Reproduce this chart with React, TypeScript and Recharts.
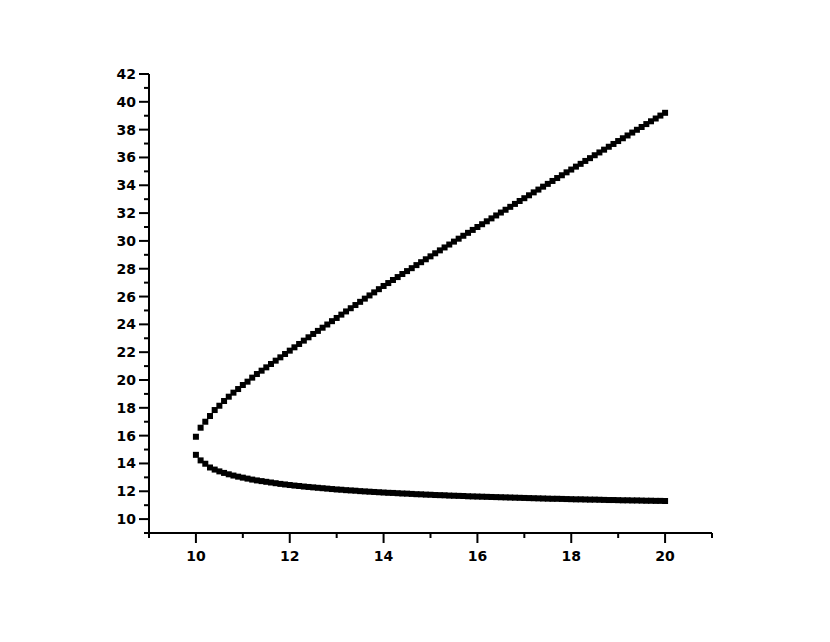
import React from "react";
import { ScatterChart, Scatter, XAxis, YAxis } from "recharts";

const xValues = [
  10.0, 10.1, 10.2, 10.3, 10.4, 10.5, 10.6, 10.7, 10.8, 10.9,
  11.0, 11.1, 11.2, 11.3, 11.4, 11.5, 11.6, 11.7, 11.8, 11.9,
  12.0, 12.1, 12.2, 12.3, 12.4, 12.5, 12.6, 12.7, 12.8, 12.9,
  13.0, 13.1, 13.2, 13.3, 13.4, 13.5, 13.6, 13.7, 13.8, 13.9,
  14.0, 14.1, 14.2, 14.3, 14.4, 14.5, 14.6, 14.7, 14.8, 14.9,
  15.0, 15.1, 15.2, 15.3, 15.4, 15.5, 15.6, 15.7, 15.8, 15.9,
  16.0, 16.1, 16.2, 16.3, 16.4, 16.5, 16.6, 16.7, 16.8, 16.9,
  17.0, 17.1, 17.2, 17.3, 17.4, 17.5, 17.6, 17.7, 17.8, 17.9,
  18.0, 18.1, 18.2, 18.3, 18.4, 18.5, 18.6, 18.7, 18.8, 18.9,
  19.0, 19.1, 19.2, 19.3, 19.4, 19.5, 19.6, 19.7, 19.8, 19.9,
  20.0,
];

const upperY = [
  15.92, 16.57, 17.0, 17.41, 17.84, 18.15, 18.49, 18.8, 19.09, 19.35,
  19.64, 19.88, 20.17, 20.43, 20.67, 20.91, 21.15, 21.39, 21.63, 21.87,
  22.11, 22.35, 22.59, 22.83, 23.07, 23.31, 23.53, 23.76, 23.99, 24.23,
  24.46, 24.7, 24.93, 25.16, 25.39, 25.62, 25.85, 26.08, 26.3, 26.53,
  26.76, 26.97, 27.19, 27.4, 27.62, 27.83, 28.04, 28.26, 28.47, 28.68,
  28.89, 29.11, 29.32, 29.53, 29.74, 29.95, 30.16, 30.37, 30.58, 30.79,
  31.0, 31.2, 31.41, 31.62, 31.83, 32.04, 32.24, 32.45, 32.66, 32.87,
  33.07, 33.28, 33.49, 33.69, 33.9, 34.1, 34.31, 34.52, 34.72, 34.93,
  35.13, 35.34, 35.54, 35.75, 35.95, 36.16, 36.36, 36.56, 36.77, 36.97,
  37.18, 37.38, 37.58, 37.79, 37.99, 38.19, 38.4, 38.6, 38.8, 39.01,
  39.21,
];

const lowerY = [
  14.62, 14.22, 13.98, 13.71, 13.56, 13.43, 13.32, 13.22, 13.13, 13.05,
  12.98, 12.91, 12.84, 12.78, 12.73, 12.68, 12.63, 12.58, 12.53, 12.49,
  12.45, 12.41, 12.38, 12.34, 12.31, 12.28, 12.25, 12.22, 12.19, 12.16,
  12.13, 12.11, 12.08, 12.06, 12.04, 12.01, 11.99, 11.97, 11.95, 11.93,
  11.91, 11.89, 11.88, 11.86, 11.84, 11.83, 11.81, 11.79, 11.78, 11.76,
  11.75, 11.73, 11.72, 11.71, 11.69, 11.68, 11.67, 11.66, 11.64, 11.63,
  11.62, 11.61, 11.6, 11.59, 11.58, 11.57, 11.56, 11.55, 11.54, 11.53,
  11.52, 11.51, 11.5, 11.49, 11.48, 11.47, 11.46, 11.46, 11.45, 11.44,
  11.43, 11.42, 11.42, 11.41, 11.4, 11.4, 11.39, 11.38, 11.37, 11.37,
  11.36, 11.35, 11.35, 11.34, 11.34, 11.33, 11.32, 11.32, 11.31, 11.31,
  11.3,
];

const xTicks = [9, 10, 11, 12, 13, 14, 15, 16, 17, 18, 19, 20, 21];
const yTicks = [
  9, 10, 11, 12, 13, 14, 15, 16, 17, 18, 19, 20, 21, 22, 23, 24, 25, 26,
  27, 28, 29, 30, 31, 32, 33, 34, 35, 36, 37, 38, 39, 40, 41, 42,
];

const upperData = xValues.map((x, i) => ({ x, y: upperY[i] }));
const lowerData = xValues.map((x, i) => ({ x, y: lowerY[i] }));

const labelStyle = {
  fontFamily: "'DejaVu Sans', sans-serif",
  fontWeight: "bold" as const,
  fontSize: 14,
  fill: "#000",
};

const XTick = (props: any) => {
  const { x, y, payload } = props;
  const v = payload.value;
  const major = v % 2 === 0;
  return (
    <g>
      <line x1={x} y1={y} x2={x} y2={y + (major ? 10 : 5)} stroke="#000" strokeWidth={2} />
      {major && v >= 10 && v <= 20 ? (
        <text x={x} y={y + 28} textAnchor="middle" style={labelStyle}>
          {v}
        </text>
      ) : null}
    </g>
  );
};

const YTick = (props: any) => {
  const { x, y, payload } = props;
  const v = payload.value;
  const major = v % 2 === 0;
  return (
    <g>
      <line x1={x} y1={y} x2={x - (major ? 10 : 5)} y2={y} stroke="#000" strokeWidth={2} />
      {major ? (
        <text x={x - 13} y={y + 5} textAnchor="end" style={labelStyle}>
          {v}
        </text>
      ) : null}
    </g>
  );
};

const SquareMark = (props: any) => {
  const { cx, cy } = props;
  if (cx == null || cy == null) return null;
  return <rect x={cx - 3} y={cy - 3} width={6} height={6} fill="#000" />;
};

export default function App() {
  return (
    <div style={{ width: 814, height: 626, background: "#fff" }}>
      <ScatterChart
        width={814}
        height={626}
        margin={{ top: 66, right: 110, bottom: 61, left: 81 }}
      >
        <XAxis
          dataKey="x"
          type="number"
          domain={[9, 21]}
          ticks={xTicks}
          interval={0}
          allowDataOverflow
          height={40}
          tickSize={0}
          tickMargin={0}
          tickLine={false}
          axisLine={{ stroke: "#000", strokeWidth: 2 }}
          tick={<XTick />}
        />
        <YAxis
          dataKey="y"
          type="number"
          domain={[9, 42]}
          ticks={yTicks}
          interval={0}
          allowDataOverflow
          width={60}
          tickSize={0}
          tickMargin={0}
          tickLine={false}
          axisLine={{ stroke: "#000", strokeWidth: 2 }}
          tick={<YTick />}
        />
        <Scatter
          name="upper"
          data={upperData}
          fill="#000"
          shape={<SquareMark />}
          isAnimationActive={false}
        />
        <Scatter
          name="lower"
          data={lowerData}
          fill="#000"
          shape={<SquareMark />}
          isAnimationActive={false}
        />
      </ScatterChart>
    </div>
  );
}
